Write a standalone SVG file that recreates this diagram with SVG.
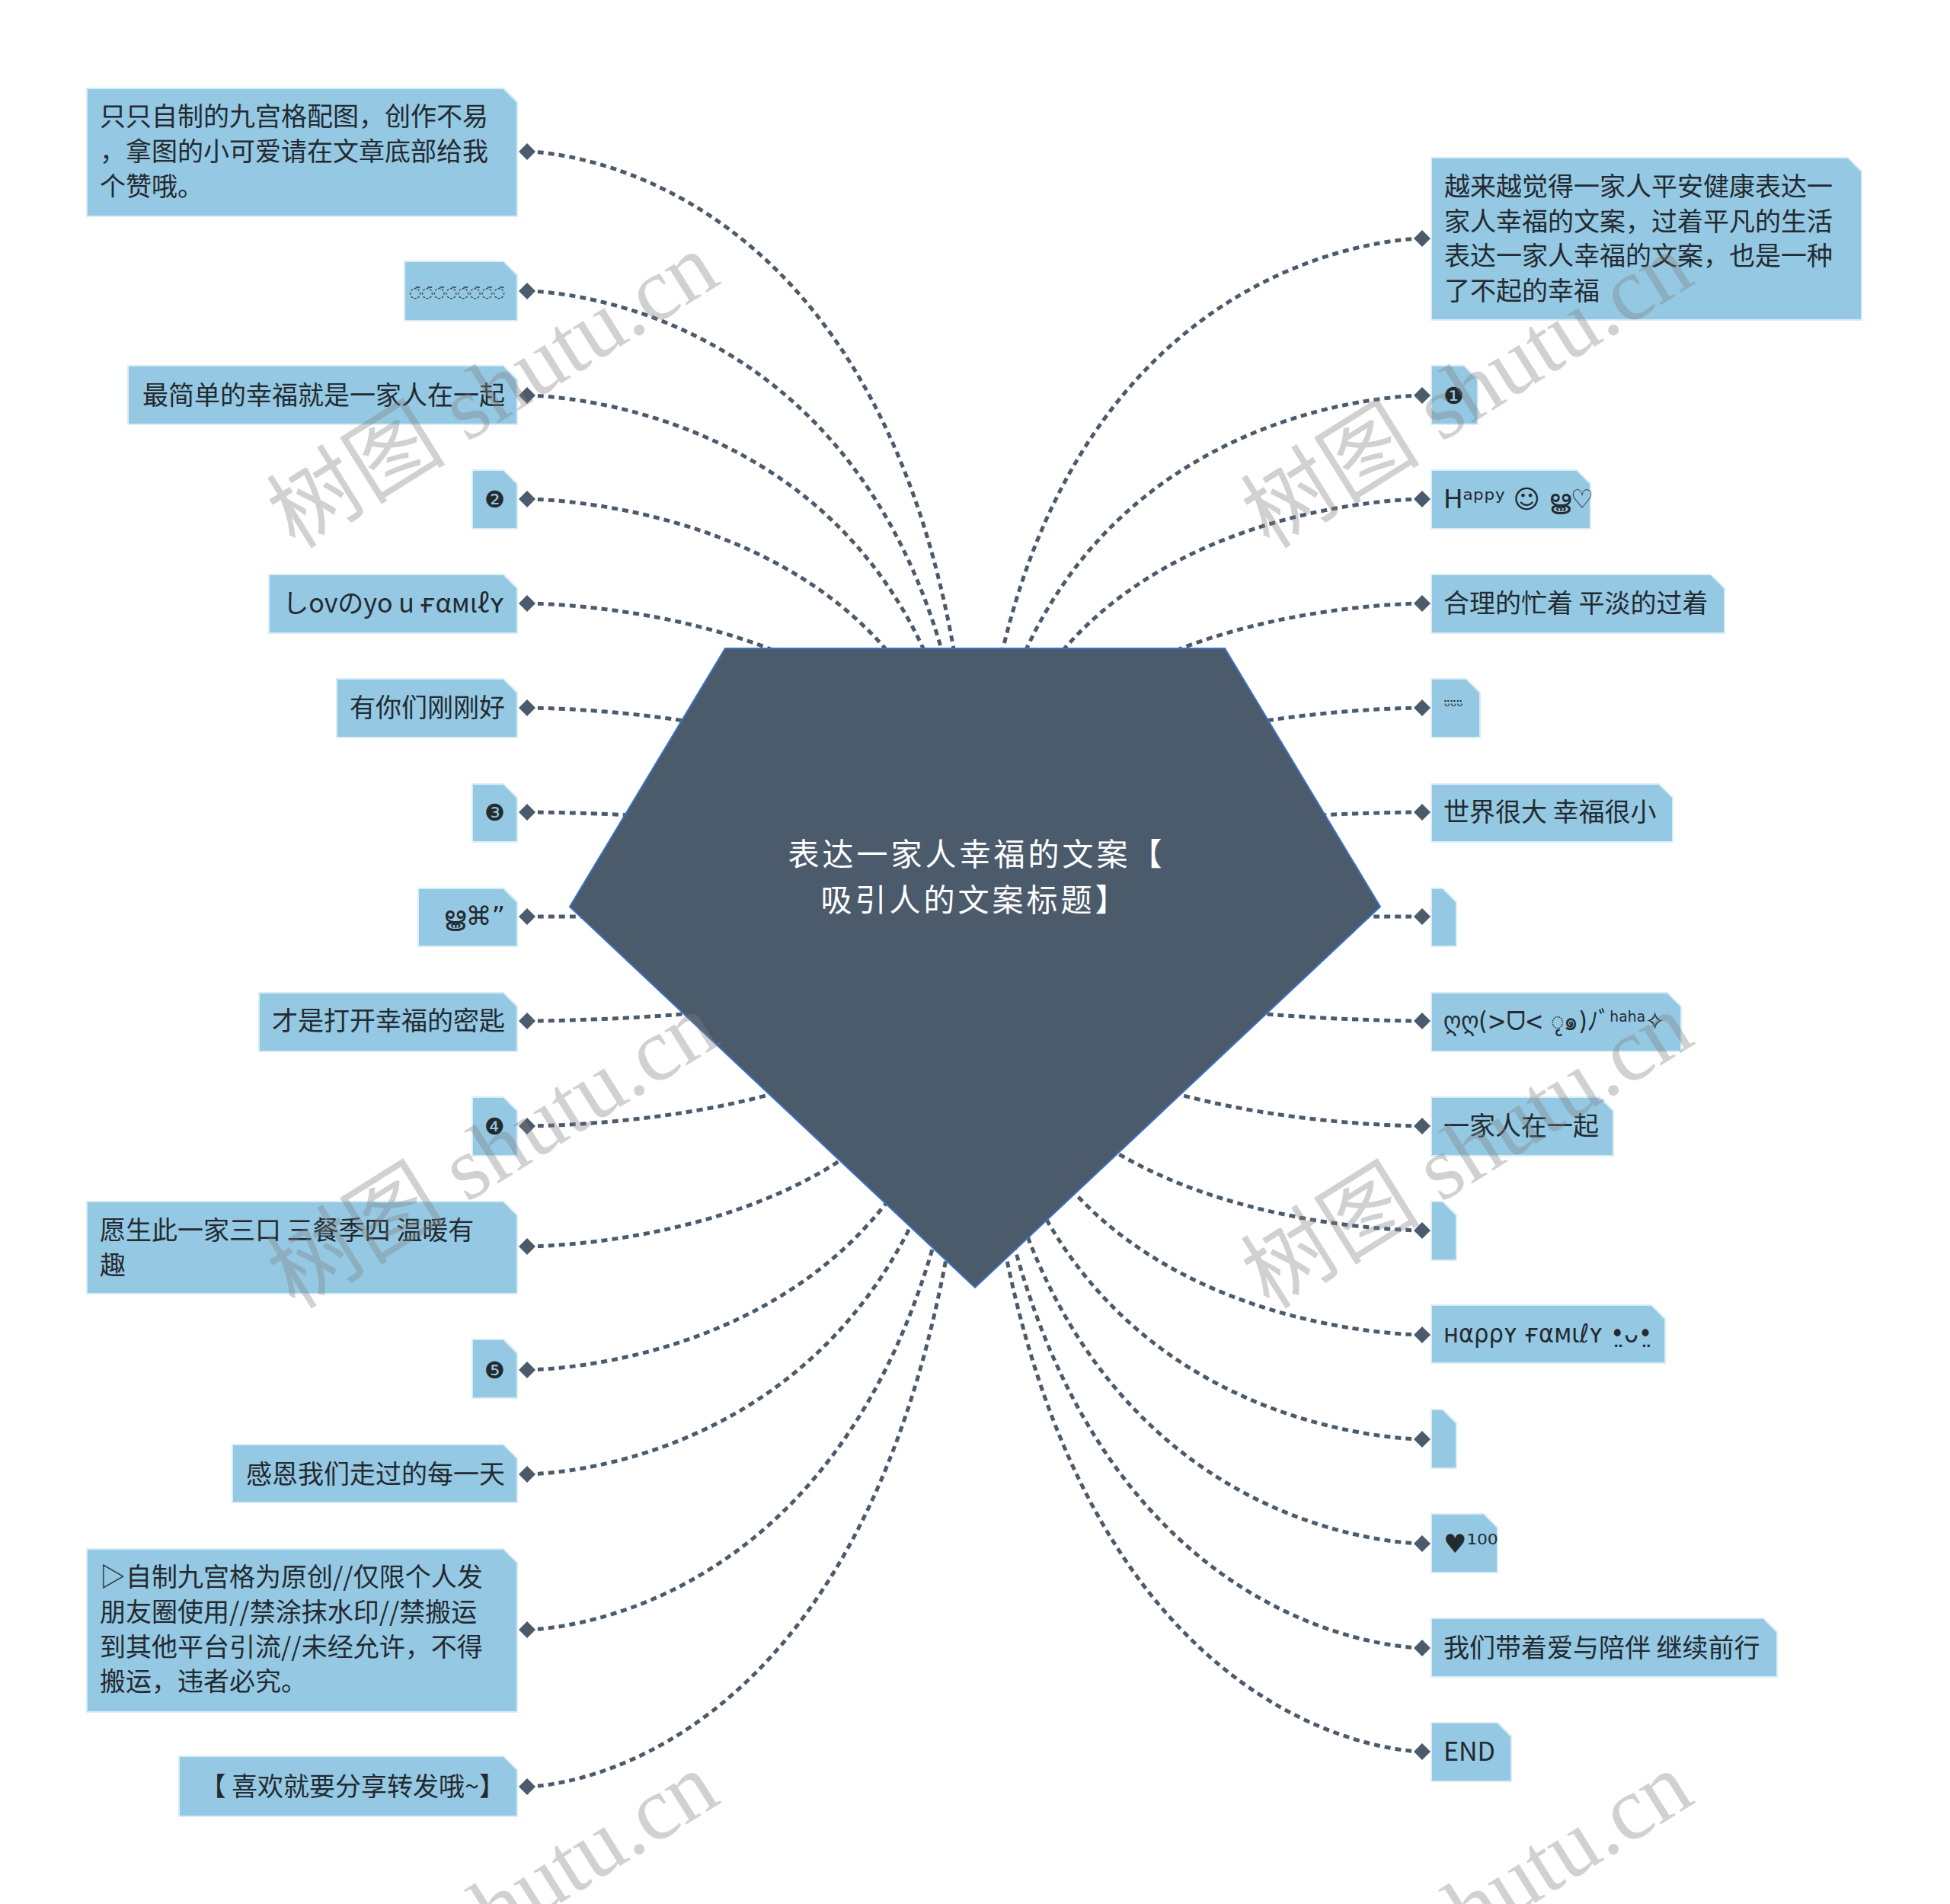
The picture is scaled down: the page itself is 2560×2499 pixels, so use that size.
<svg xmlns="http://www.w3.org/2000/svg" width="2560" height="2499" viewBox="0 0 2560 2499">
<style>
.box{fill:#95c8e2;stroke:#d9edf7;stroke-width:2}
.t{font-family:"Noto Sans CJK SC","DejaVu Sans",sans-serif;font-size:34px;fill:#232a30}
.e{text-anchor:end}
.sym{font-family:"DejaVu Sans","Noto Sans CJK SC",sans-serif}
.link{fill:none;stroke:#4b5b6b;stroke-width:5;stroke-dasharray:8 6}
.ct{font-family:"Noto Sans CJK SC",sans-serif;font-size:41px;letter-spacing:4px;fill:#ffffff;text-anchor:middle}
.wm{font-family:"Liberation Serif","Noto Sans CJK SC",serif;font-size:118px;fill:#7f7f7f;fill-opacity:0.36;text-anchor:middle}
</style>
<defs>
<marker id="dm" viewBox="-12 -12 24 24" markerWidth="24" markerHeight="24" markerUnits="userSpaceOnUse" orient="0" refX="0" refY="0"><path d="M0 -11 L11 0 L0 11 L-11 0Z" fill="#4b5b6b"/></marker>
</defs>
<rect width="2560" height="2499" fill="#ffffff"/>
<g id="connectors">
<path class="link" marker-start="url(#dm)" d="M692 199 C692 199 1280 199 1280 1197"/>
<path class="link" marker-start="url(#dm)" d="M692 382 C692 382 1280 382 1280 1197"/>
<path class="link" marker-start="url(#dm)" d="M692 519 C692 519 1280 519 1280 1197"/>
<path class="link" marker-start="url(#dm)" d="M692 655 C692 655 1280 655 1280 1197"/>
<path class="link" marker-start="url(#dm)" d="M692 792 C692 792 1280 792 1280 1197"/>
<path class="link" marker-start="url(#dm)" d="M692 929 C692 929 1280 929 1280 1197"/>
<path class="link" marker-start="url(#dm)" d="M692 1066 C692 1066 1280 1066 1280 1197"/>
<path class="link" marker-start="url(#dm)" d="M692 1203 C692 1203 1280 1203 1280 1197"/>
<path class="link" marker-start="url(#dm)" d="M692 1340 C692 1340 1280 1340 1280 1197"/>
<path class="link" marker-start="url(#dm)" d="M692 1478 C692 1478 1280 1478 1280 1197"/>
<path class="link" marker-start="url(#dm)" d="M692 1636 C692 1636 1280 1636 1280 1197"/>
<path class="link" marker-start="url(#dm)" d="M692 1798 C692 1798 1280 1798 1280 1197"/>
<path class="link" marker-start="url(#dm)" d="M692 1935 C692 1935 1280 1935 1280 1197"/>
<path class="link" marker-start="url(#dm)" d="M692 2139 C692 2139 1280 2139 1280 1197"/>
<path class="link" marker-start="url(#dm)" d="M692 2345 C692 2345 1280 2345 1280 1197"/>
<path class="link" marker-start="url(#dm)" d="M1867 313 C1867 313 1280 313 1280 1197"/>
<path class="link" marker-start="url(#dm)" d="M1867 519 C1867 519 1280 519 1280 1197"/>
<path class="link" marker-start="url(#dm)" d="M1867 655 C1867 655 1280 655 1280 1197"/>
<path class="link" marker-start="url(#dm)" d="M1867 792 C1867 792 1280 792 1280 1197"/>
<path class="link" marker-start="url(#dm)" d="M1867 929 C1867 929 1280 929 1280 1197"/>
<path class="link" marker-start="url(#dm)" d="M1867 1066 C1867 1066 1280 1066 1280 1197"/>
<path class="link" marker-start="url(#dm)" d="M1867 1203 C1867 1203 1280 1203 1280 1197"/>
<path class="link" marker-start="url(#dm)" d="M1867 1340 C1867 1340 1280 1340 1280 1197"/>
<path class="link" marker-start="url(#dm)" d="M1867 1478 C1867 1478 1280 1478 1280 1197"/>
<path class="link" marker-start="url(#dm)" d="M1867 1615 C1867 1615 1280 1615 1280 1197"/>
<path class="link" marker-start="url(#dm)" d="M1867 1752 C1867 1752 1280 1752 1280 1197"/>
<path class="link" marker-start="url(#dm)" d="M1867 1889 C1867 1889 1280 1889 1280 1197"/>
<path class="link" marker-start="url(#dm)" d="M1867 2026 C1867 2026 1280 2026 1280 1197"/>
<path class="link" marker-start="url(#dm)" d="M1867 2163 C1867 2163 1280 2163 1280 1197"/>
<path class="link" marker-start="url(#dm)" d="M1867 2299 C1867 2299 1280 2299 1280 1197"/>
</g>
<g id="root">
<polygon points="952,851 1608,851 1812,1190 1280,1690 748,1190" fill="#4b5b6b" stroke="#3b72c6" stroke-width="2"/>
<text class="ct"><tspan x="1282" y="1136">表达一家人幸福的文案【</tspan><tspan x="1280" y="1196">吸引人的文案标题】</tspan></text>
</g>
<g id="L1"><path class="box" d="M114 116 H661 L679 134 V284 H114 Z"/>
<text class="t"><tspan x="131" y="165">只只自制的九宫格配图，创作不易</tspan><tspan x="131" y="211">，拿图的小可爱请在文章底部给我</tspan><tspan x="131" y="257">个赞哦。</tspan></text></g>
<g id="L2"><path class="box" d="M531 343 H661 L679 361 V421 H531 Z"/>
<text class="t e sym" x="663" y="390" style="font-size:18px">◌̃◌̃◌̃◌̃◌̃◌̃◌̃◌̃</text></g>
<g id="L3"><path class="box" d="M168 480 H661 L679 498 V557 H168 Z"/>
<text class="t e" x="663" y="531">最简单的幸福就是一家人在一起</text></g>
<g id="L4"><path class="box" d="M620 617 H661 L679 635 V694 H620 Z"/>
<text class="t e sym" x="663" y="666" style="font-size:30px">❷</text></g>
<g id="L5"><path class="box" d="M353 754 H661 L679 772 V831 H353 Z"/>
<text class="t e" x="663" y="804">しovのyo u  ғαмιℓʏ</text></g>
<g id="L6"><path class="box" d="M442 891 H661 L679 909 V968 H442 Z"/>
<text class="t e" x="663" y="941">有你们刚刚好</text></g>
<g id="L7"><path class="box" d="M620 1029 H661 L679 1047 V1105 H620 Z"/>
<text class="t e sym" x="663" y="1077" style="font-size:30px">❸</text></g>
<g id="L8"><path class="box" d="M549 1166 H661 L679 1184 V1242 H549 Z"/>
<text class="t e sym" x="663" y="1214">ൠ⌘”</text></g>
<g id="L9"><path class="box" d="M340 1303 H661 L679 1321 V1380 H340 Z"/>
<text class="t e" x="663" y="1352">才是打开幸福的密匙</text></g>
<g id="L10"><path class="box" d="M620 1440 H661 L679 1458 V1517 H620 Z"/>
<text class="t e sym" x="663" y="1489" style="font-size:30px">❹</text></g>
<g id="L11"><path class="box" d="M114 1577 H661 L679 1595 V1698 H114 Z"/>
<text class="t"><tspan x="131" y="1627">愿生此一家三口 三餐季四 温暖有</tspan><tspan x="131" y="1673">趣</tspan></text></g>
<g id="L12"><path class="box" d="M620 1758 H661 L679 1776 V1835 H620 Z"/>
<text class="t e sym" x="663" y="1809" style="font-size:30px">❺</text></g>
<g id="L13"><path class="box" d="M305 1896 H661 L679 1914 V1972 H305 Z"/>
<text class="t e" x="663" y="1947">感恩我们走过的每一天</text></g>
<g id="L14"><path class="box" d="M114 2033 H661 L679 2051 V2247 H114 Z"/>
<text class="t"><tspan x="131" y="2082">▷自制九宫格为原创//仅限个人发</tspan><tspan x="131" y="2128">朋友圈使用//禁涂抹水印//禁搬运</tspan><tspan x="131" y="2174">到其他平台引流//未经允许，不得</tspan><tspan x="131" y="2219">搬运，违者必究。</tspan></text></g>
<g id="L15"><path class="box" d="M235 2305 H661 L679 2323 V2384 H235 Z"/>
<text class="t e" x="663" y="2357">【 喜欢就要分享转发哦~】</text></g>
<g id="R1"><path class="box" d="M1879 207 H2426 L2444 225 V420 H1879 Z"/>
<text class="t"><tspan x="1896" y="257">越来越觉得一家人平安健康表达一</tspan><tspan x="1896" y="303">家人幸福的文案，过着平凡的生活</tspan><tspan x="1896" y="348">表达一家人幸福的文案，也是一种</tspan><tspan x="1896" y="394">了不起的幸福</tspan></text></g>
<g id="R2"><path class="box" d="M1879 480 H1922 L1940 498 V557 H1879 Z"/>
<text class="t sym" x="1895" y="530" style="font-size:30px">❶</text></g>
<g id="R3"><path class="box" d="M1879 617 H2070 L2088 635 V694 H1879 Z"/>
<text class="t sym" x="1895" y="667">Hᵃᵖᵖʸ ☺ ൠ♡</text></g>
<g id="R4"><path class="box" d="M1879 754 H2246 L2264 772 V831 H1879 Z"/>
<text class="t" x="1895" y="804">合理的忙着 平淡的过着</text></g>
<g id="R5"><path class="box" d="M1879 891 H1925 L1943 909 V968 H1879 Z"/>
<text class="t sym" x="1896" y="934" style="font-size:20px">ᵕ̈ᵕ̈ᵕ̈</text></g>
<g id="R6"><path class="box" d="M1879 1029 H2178 L2196 1047 V1105 H1879 Z"/>
<text class="t" x="1895" y="1078">世界很大 幸福很小</text></g>
<g id="R7"><path class="box" d="M1879 1166 H1894 L1912 1184 V1242 H1879 Z"/></g>
<g id="R8"><path class="box" d="M1879 1303 H2189 L2207 1321 V1380 H1879 Z"/>
<text class="t sym" x="1895" y="1352" textLength="290" lengthAdjust="spacingAndGlyphs">ღღ(&gt;ᗜ&lt; ृ๑)ﾉﾞʰᵃʰᵃ✧</text></g>
<g id="R9"><path class="box" d="M1879 1440 H2100 L2118 1458 V1517 H1879 Z"/>
<text class="t" x="1895" y="1490">一家人在一起</text></g>
<g id="R10"><path class="box" d="M1879 1577 H1894 L1912 1595 V1654 H1879 Z"/></g>
<g id="R11"><path class="box" d="M1879 1713 H2168 L2186 1731 V1789 H1879 Z"/>
<text class="t sym" x="1895" y="1762" textLength="274" lengthAdjust="spacingAndGlyphs">нαρρʏ ғαмιℓʏ •̤ᴗ•̤</text></g>
<g id="R12"><path class="box" d="M1879 1850 H1894 L1912 1868 V1927 H1879 Z"/></g>
<g id="R13"><path class="box" d="M1879 1987 H1948 L1966 2005 V2064 H1879 Z"/>
<text class="t sym" x="1895" y="2038">♥¹⁰⁰</text></g>
<g id="R14"><path class="box" d="M1879 2124 H2315 L2333 2142 V2201 H1879 Z"/>
<text class="t" x="1895" y="2175">我们带着爱与陪伴 继续前行</text></g>
<g id="R15"><path class="box" d="M1879 2261 H1966 L1984 2279 V2338 H1879 Z"/>
<text class="t" x="1895" y="2311">END</text></g>
<g id="watermark">
<text class="wm" transform="translate(648 514) rotate(-32)" x="0" y="38">树图 shutu.cn</text>
<text class="wm" transform="translate(1927 514) rotate(-32)" x="0" y="38">树图 shutu.cn</text>
<text class="wm" transform="translate(648 1512) rotate(-32)" x="0" y="38">树图 shutu.cn</text>
<text class="wm" transform="translate(1927 1512) rotate(-32)" x="0" y="38">树图 shutu.cn</text>
<text class="wm" transform="translate(648 2508) rotate(-32)" x="0" y="38">树图 shutu.cn</text>
<text class="wm" transform="translate(1927 2508) rotate(-32)" x="0" y="38">树图 shutu.cn</text>
</g>
</svg>
